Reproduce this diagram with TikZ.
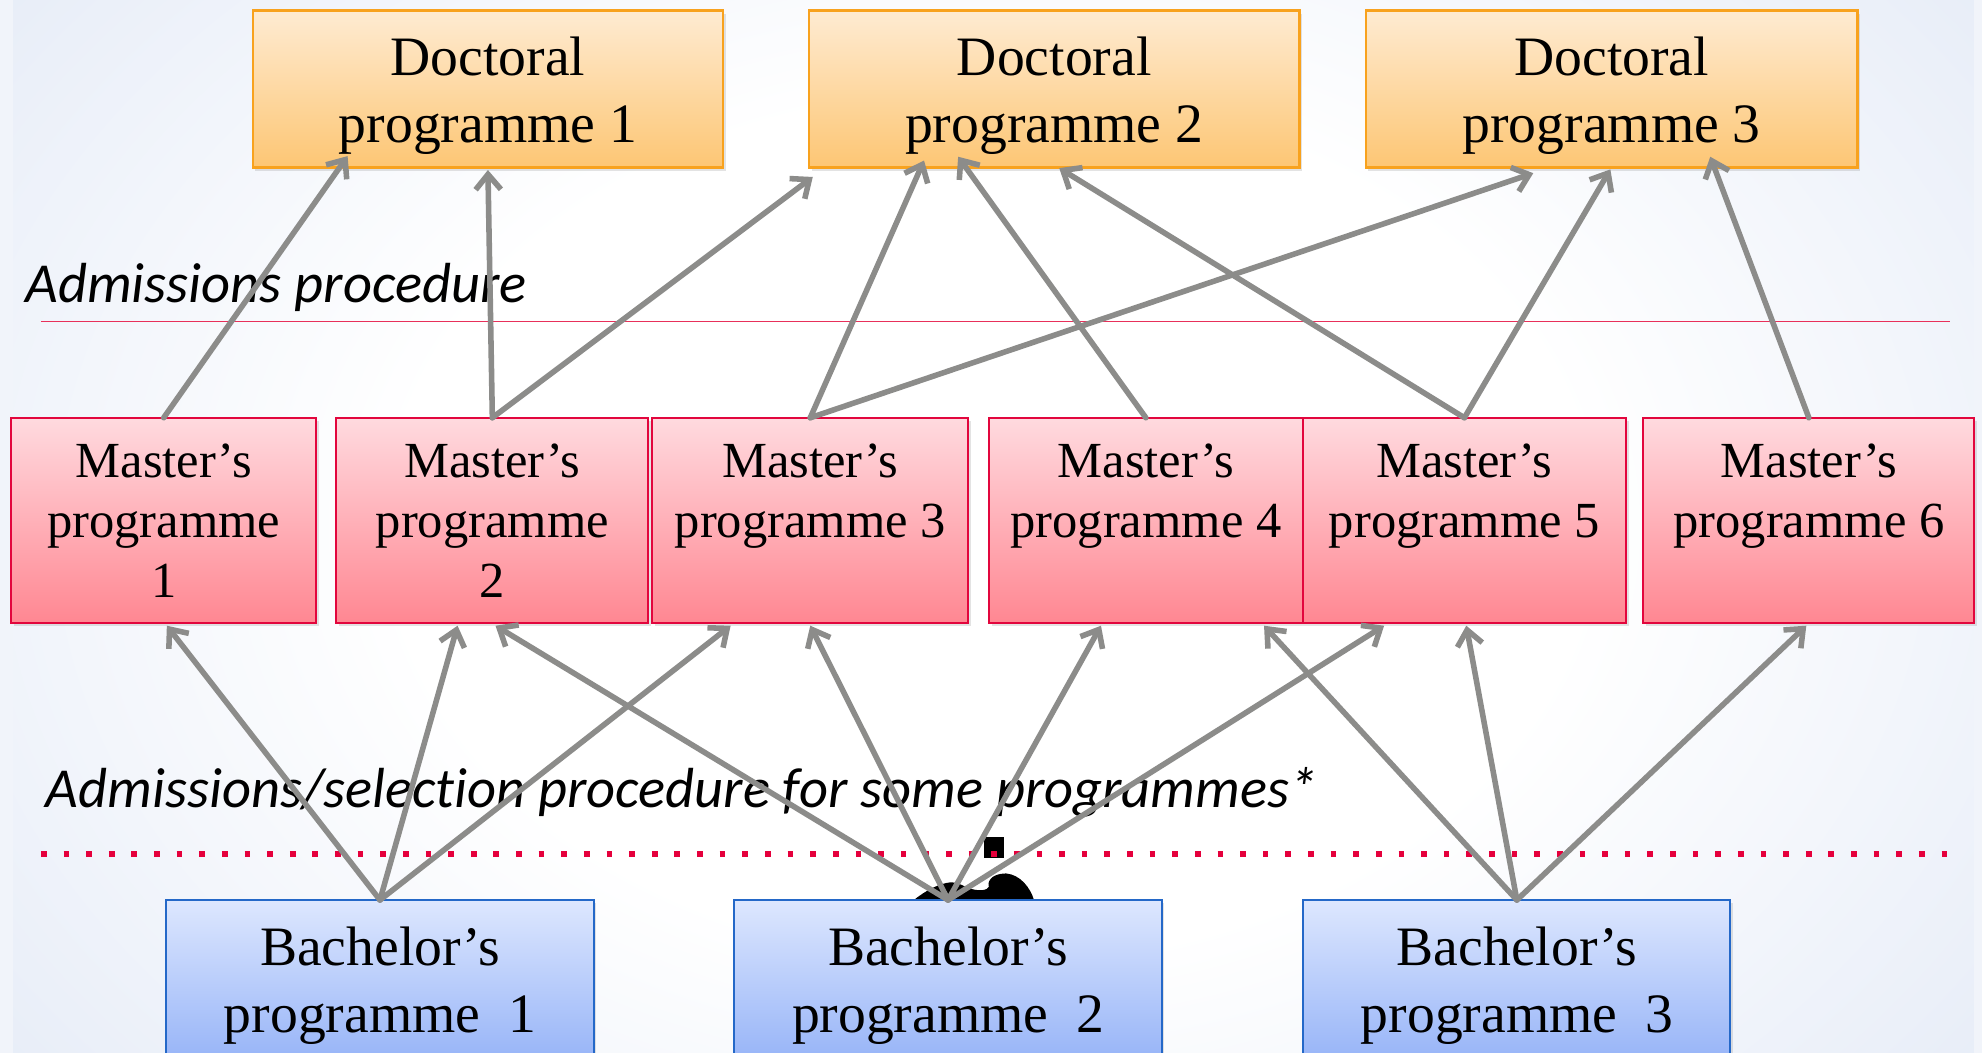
\documentclass[tikz,border=0pt]{standalone}
\usepackage{fontspec}
\setmainfont{Liberation Serif}
\newfontfamily\notefont[Ligatures=NoCommon]{Carlito}
\usetikzlibrary{arrows.meta,shadows}

\definecolor{bgMid}{HTML}{E2E9F6}
\definecolor{bgOuter}{HTML}{D0DBF0}
\definecolor{edgeStrip}{HTML}{F1F4FA}
\definecolor{docTop}{HTML}{FEEBD2}
\definecolor{docBot}{HTML}{FDC674}
\definecolor{docLine}{HTML}{F8A21E}
\definecolor{masTop}{HTML}{FFDADF}
\definecolor{masBot}{HTML}{FF8792}
\definecolor{masLine}{HTML}{E2063D}
\definecolor{bacTop}{HTML}{DDE7FE}
\definecolor{bacBot}{HTML}{90AFF7}
\definecolor{bacLine}{HTML}{2468C8}
\definecolor{arrowGray}{HTML}{8C8C8A}
\definecolor{ruleRed}{HTML}{E8305A}
\definecolor{dotRed}{HTML}{E5003C}

\pgfdeclareradialshading{slidebg}{\pgfpoint{0bp}{0bp}}{%
  color(0bp)=(white); color(15bp)=(white); color(35bp)=(bgMid); color(50bp)=(bgOuter); color(71bp)=(bgOuter)}

% box contents: text hangs from the top edge with a fixed first baseline
\newcommand\doctext[1]{\parbox[c][124pt][t]{340pt}{\centering\fontsize{44}{53}\selectfont\rule{0pt}{51.5pt}#1}}
\newcommand\mastext[1]{\parbox[c][162pt][t]{224pt}{\centering\fontsize{40}{47.5}\selectfont\rule{0pt}{47pt}#1}}
\newcommand\bactext[1]{\parbox[c][140pt][t]{320pt}{\centering\fontsize{44}{53.5}\selectfont\rule{0pt}{51.5pt}#1}}

\tikzset{
  boxbase/.style={inner sep=0pt, outer sep=0pt,
    drop shadow={shadow xshift=2pt, shadow yshift=-2.5pt, opacity=0.22}},
  docbox/.style={boxbase, draw=docLine, line width=2pt, top color=docTop, bottom color=docBot,
    minimum height=124pt},
  masbox/.style={boxbase, draw=masLine, line width=1.6pt, top color=masTop, bottom color=masBot,
    minimum height=162pt},
  bacbox/.style={boxbase, draw=bacLine, line width=1.6pt, top color=bacTop, bottom color=bacBot,
    minimum height=140pt, minimum width=338pt},
  notelabel/.style={anchor=base west, inner sep=0pt, font=\notefont\itshape\fontsize{44.7}{52}\selectfont},
  link/.style={draw=arrowGray, line width=4.4pt, line cap=round,
    -{Straight Barb[length=12pt,width=20pt]}}
}

\begin{document}
\begin{tikzpicture}[x=1pt, y=-1pt]
\useasboundingbox (0,0) rectangle (1568,833);
\clip (0,0) rectangle (1568,833);

% slide background
\shade[shading=slidebg] (0,-150) rectangle (1568,983);
\fill[edgeStrip] (0,0) rectangle (10,833);
\fill[edgeStrip] (1562,0) rectangle (1568,833);

% dark ornament peeking out behind the middle bachelor box
\fill[black] (778.5,662) rectangle (794,679);
\fill[black] (723,712) .. controls (733,704) and (743,699) .. (752,698)
  .. controls (760,698) and (764,703) .. (772,704)
  .. controls (779,705) and (784,703) .. (782,699)
  .. controls (783,693) and (790,691) .. (796,691)
  .. controls (807,692) and (815,702) .. (818,712) -- cycle;

% separators
\draw[ruleRed, line width=1pt] (32.3,254.5) -- (1543,254.5);
\draw[dotRed, line width=4.5pt, dash pattern=on 4.5pt off 13.4pt] (32.4,675.6) -- (1540,675.6);

% captions
\node[notelabel] (adm) at (20,239) {Admissions procedure};
\node[notelabel] (sel) at (36,638.5) {Admissions/selection procedure for some programmes*};

% doctoral programmes
\node[docbox, minimum width=372pt] (D1) at (386,70.5)  {\doctext{Doctoral\\programme 1}};
\node[docbox, minimum width=388pt] (D2) at (834,70.5)  {\doctext{Doctoral\\programme 2}};
\node[docbox, minimum width=389pt] (D3) at (1275,70.5) {\doctext{Doctoral\\programme 3}};

% master's programmes
\node[masbox, minimum width=241pt] (M1) at (129.5,411.5) {\mastext{Master’s\\programme\\1}};
\node[masbox, minimum width=247pt] (M2) at (389.5,411.5) {\mastext{Master’s\\programme\\2}};
\node[masbox, minimum width=250pt] (M3) at (641,411.5)   {\mastext{Master’s\\programme 3}};
\node[masbox, minimum width=248pt] (M4) at (906.5,411.5) {\mastext{Master’s\\programme 4}};
\node[masbox, minimum width=256pt] (M5) at (1158.5,411.5) {\mastext{Master’s\\programme 5}};
\node[masbox, minimum width=262pt] (M6) at (1431,411.5)  {\mastext{Master’s\\programme 6}};

% bachelor's programmes
\node[bacbox] (B1) at (300.6,782) {\bactext{Bachelor’s\\programme~~1}};
\node[bacbox] (B2) at (750,782)   {\bactext{Bachelor’s\\programme~~2}};
\node[bacbox] (B3) at (1200,782)  {\bactext{Bachelor’s\\programme~~3}};

% master's -> doctoral
\draw[link] (M1.north) -- ([xshift=-111pt,yshift=9pt]D1.south);
\draw[link] (M2.north) -- ([yshift=-2pt]D1.south);
\draw[link] (M2.north) -- ([xshift=-191pt,yshift=-7.5pt]D2.south);
\draw[link] (M3.north) -- ([xshift=-103pt,yshift=5.5pt]D2.south);
\draw[link] (M3.north) -- ([xshift=-62pt,yshift=-4.5pt]D3.south);
\draw[link] (M4.north) -- ([xshift=-76pt,yshift=8.5pt]D2.south);
\draw[link] (M5.north) -- ([xshift=4pt,yshift=-0.5pt]D2.south);
\draw[link] (M5.north) -- ([xshift=-1pt,yshift=-1.5pt]D3.south);
\draw[link] (M6.north) -- ([xshift=78pt,yshift=8.5pt]D3.south);

% bachelor's -> master's
\draw[link] (B1.north) -- ([xshift=2.5pt,yshift=-2.5pt]M1.south);
\draw[link] (B1.north) -- ([xshift=-27.5pt,yshift=-2.5pt]M2.south);
\draw[link] (B1.north) -- ([xshift=-63pt,yshift=-2.5pt]M3.south);
\draw[link] (B2.north) -- ([xshift=2.5pt,yshift=-2.5pt]M2.south);
\draw[link] (B2.north) -- ([yshift=-2.5pt]M3.south);
\draw[link] (B2.north) -- ([xshift=-35.5pt,yshift=-2.5pt]M4.south);
\draw[link] (B2.north) -- ([xshift=-63.5pt,yshift=-2.5pt]M5.south);
\draw[link] (B3.north) -- ([xshift=93.5pt,yshift=-2.5pt]M4.south);
\draw[link] (B3.north) -- ([xshift=1.5pt,yshift=-2.5pt]M5.south);
\draw[link] (B3.north) -- ([xshift=-2pt,yshift=-2.5pt]M6.south);
\end{tikzpicture}
\end{document}
